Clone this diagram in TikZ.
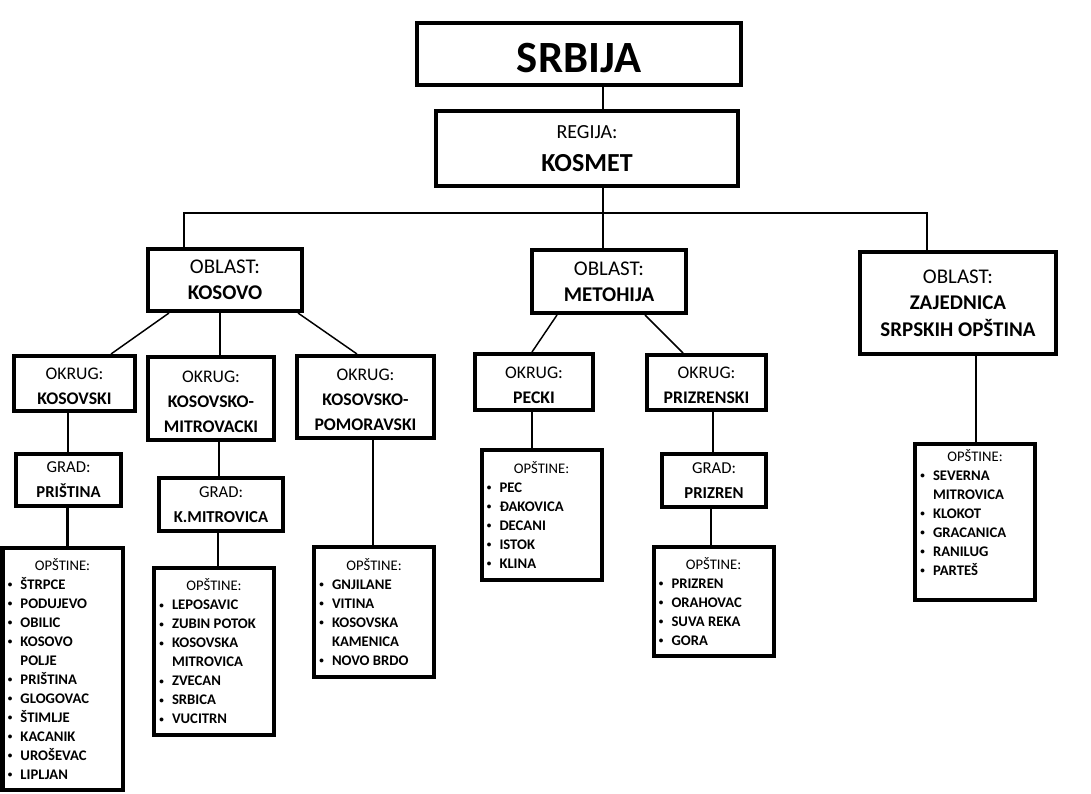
\documentclass[tikz,border=0pt]{standalone}
\usepackage{fontspec}
\setmainfont{Carlito}
\usepackage{tikz}
\usetikzlibrary{calc}

\newcommand{\opsitem}{\makebox[9pt][l]{\hspace*{-0.5pt}\raisebox{0.25ex}{\scalebox{0.62}{\textbullet}}}}
\newcommand{\opsnext}{\hspace*{9pt}}
\newcommand{\lift}{\rule{0pt}{13.5pt}}

\begin{document}
\begin{tikzpicture}[x=0.75pt,y=-0.75pt,
	dims/.style 2 args={minimum width=#1*0.75pt,minimum height=#2*0.75pt}]

	\tikzstyle{box}=[draw,line width=3pt,align=center,inner sep=0pt]
	\tikzstyle{oblast}=[box,font=\fontsize{15.7}{19.5}\selectfont]
	\tikzstyle{okrug}=[box,font=\fontsize{13.3}{18.75}\selectfont]
	\tikzstyle{grad}=[box,font=\fontsize{12.5}{18.75}\selectfont]
	\tikzstyle{ops}=[box,align=flush left,text width=81pt,inner xsep=4.5pt,font=\fontsize{11}{14.25}\selectfont\bfseries]
	\tikzstyle{link}=[line width=1.5pt]
	\tikzstyle{slant}=[line width=1.1pt]
	\tikzstyle{drop}=[line width=2pt]

	\useasboundingbox (0,0) rectangle (1091,793);

	% top levels
	\node[box,dims={324}{62},text height=27.5pt,text depth=0pt,
		font=\fontsize{33.5}{38}\selectfont\bfseries] (srbija) at (579,54) {SRBIJA};
	\node[box,dims={302}{75},font=\fontsize{15}{25}\selectfont] (kosmet) at (587,148.5)
		{REGIJA:\\{\fontsize{19.5}{25}\selectfont\bfseries KOSMET}};

	\node[oblast,dims={154}{62}] (kosovo) at (225,280) {OBLAST:\\\textbf{KOSOVO}};
	\node[oblast,dims={154}{63}] (metohija) at (609,281.5) {OBLAST:\\\textbf{METOHIJA}};
	\node[box,dims={196}{102},font=\fontsize{15.7}{20}\selectfont] (zajednica) at (958,303)
		{OBLAST:\\\textbf{ZAJEDNICA}\\\textbf{SRPSKIH OPŠTINA}};

	% okruzi
	\node[okrug,dims={121}{55}] (kosovski) at (74.5,383.5) {\lift OKRUG:\\\textbf{KOSOVSKI}};
	\node[okrug,dims={126}{83}] (kmitrovacki) at (211,398.5) {\lift OKRUG:\\\textbf{KOSOVSKO-}\\\textbf{MITROVACKI}};
	\node[okrug,dims={137}{82}] (pomoravski) at (365.5,397) {\lift OKRUG:\\\textbf{KOSOVSKO-}\\\textbf{POMORAVSKI}};
	\node[okrug,dims={118}{56}] (pecki) at (534,382) {\lift OKRUG:\\\textbf{PECKI}};
	\node[okrug,dims={119}{55}] (prizrenski) at (706.5,382.5) {\lift OKRUG:\\\textbf{PRIZRENSKI}};

	% gradovi
	\node[grad,dims={105}{52}] (gradpristina) at (68.5,480) {GRAD:\\\textbf{PRIŠTINA}};
	\node[grad,dims={124}{53}] (gradkmitrovica) at (221,504.5) {GRAD:\\\textbf{K.MITROVICA}};
	\node[grad,dims={104}{53}] (gradprizren) at (714,480.5) {GRAD:\\\textbf{PRIZREN}};

	% opstine
	\node[ops,dims={120}{242}] (opsPristina) at (62.5,669)
		{\makebox[\hsize]{\mdseries OPŠTINE:}\\
		\opsitem ŠTRPCE\\ \opsitem PODUJEVO\\ \opsitem OBILIC\\ \opsitem KOSOVO\\ \opsnext POLJE\\
		\opsitem PRIŠTINA\\ \opsitem GLOGOVAC\\ \opsitem ŠTIMLJE\\ \opsitem KACANIK\\
		\opsitem UROŠEVAC\\ \opsitem LIPLJAN};
	\node[ops,dims={120}{167}] (opsKMitrovica) at (214,651.5)
		{\makebox[\hsize]{\mdseries OPŠTINE:}\\
		\opsitem LEPOSAVIC\\ \opsitem ZUBIN POTOK\\ \opsitem KOSOVSKA\\ \opsnext MITROVICA\\
		\opsitem ZVECAN\\ \opsitem SRBICA\\ \opsitem VUCITRN};
	\node[ops,dims={120}{130}] (opsPomoravski) at (374,612)
		{\makebox[\hsize]{\mdseries OPŠTINE:}\\
		\opsitem GNJILANE\\ \opsitem VITINA\\ \opsitem KOSOVSKA\\ \opsnext KAMENICA\\
		\opsitem NOVO BRDO};
	\node[ops,dims={120}{130}] (opsPecki) at (541.5,515)
		{\makebox[\hsize]{\mdseries OPŠTINE:}\\
		\opsitem PEC\\ \opsitem ĐAKOVICA\\ \opsitem DECANI\\ \opsitem ISTOK\\ \opsitem KLINA};
	\node[ops,dims={120}{109}] (opsPrizren) at (713.5,601.5)
		{\makebox[\hsize]{\mdseries OPŠTINE:}\\
		\opsitem PRIZREN\\ \opsitem ORAHOVAC\\ \opsitem SUVA REKA\\ \opsitem GORA};
	\node[ops,dims={120}{156}] (opsZajednica) at (975,522)
		{\makebox[\hsize]{\mdseries OPŠTINE:}\\
		\opsitem SEVERNA\\ \opsnext MITROVICA\\ \opsitem KLOKOT\\ \opsitem GRACANICA\\
		\opsitem RANILUG\\ \opsitem PARTEŠ\\ \mbox{}};

	% connectors
	\coordinate (fork) at (603,213);
	\coordinate (forkL) at (184,213);
	\coordinate (forkR) at (927,213);
	\draw[link] (srbija.south -| fork) -- (kosmet.north -| fork);
	\draw[link] (kosmet.south -| fork) -- (fork) -- (metohija.north -| fork);
	\draw[link] (kosovo.north -| forkL) -- (forkL) -- (forkR) -- (zajednica.north -| forkR);

	\draw[slant] ($(kosovo.south west)+(23,0)$) -- ($(kosovski.north west)+(99,0)$);
	\draw[link] ($(kosovo.south west)+(74,0)$) -- ($(kmitrovacki.north)+(9,0)$);
	\draw[slant] ($(kosovo.south west)+(152,0)$) -- ($(pomoravski.north west)+(62,0)$);
	\draw[slant] ($(metohija.south west)+(27,0)$) -- ($(pecki.north west)+(59,0)$);
	\draw[slant] ($(metohija.south west)+(115,0)$) -- ($(prizrenski.north west)+(38,0)$);

	\draw[drop] ($(kosovski.south)+(-6.5,0)$) -- ($(gradpristina.north)+(-0.5,0)$);
	\draw[drop] ($(gradpristina.south)+(-1,0)$) -- ($(opsPristina.north)+(5,0)$);
	\draw[drop] ($(kmitrovacki.south)+(8,0)$) -- ($(gradkmitrovica.north)+(-2,0)$);
	\draw[drop] ($(gradkmitrovica.south)+(-3,0)$) -- ($(opsKMitrovica.north)+(4,0)$);
	\draw[drop] ($(pomoravski.south)+(7.5,0)$) -- ($(opsPomoravski.north)+(-1,0)$);
	\draw[drop] ($(pecki.south)+(-2,0)$) -- ($(opsPecki.north)+(-9.5,0)$);
	\draw[drop] ($(prizrenski.south)+(6.5,0)$) -- ($(gradprizren.north)+(-1,0)$);
	\draw[drop] ($(gradprizren.south)+(-3,0)$) -- ($(opsPrizren.north)+(-2.5,0)$);
	\draw[drop] ($(zajednica.south)+(18,0)$) -- ($(opsZajednica.north)+(1,0)$);

\end{tikzpicture}
\end{document}
